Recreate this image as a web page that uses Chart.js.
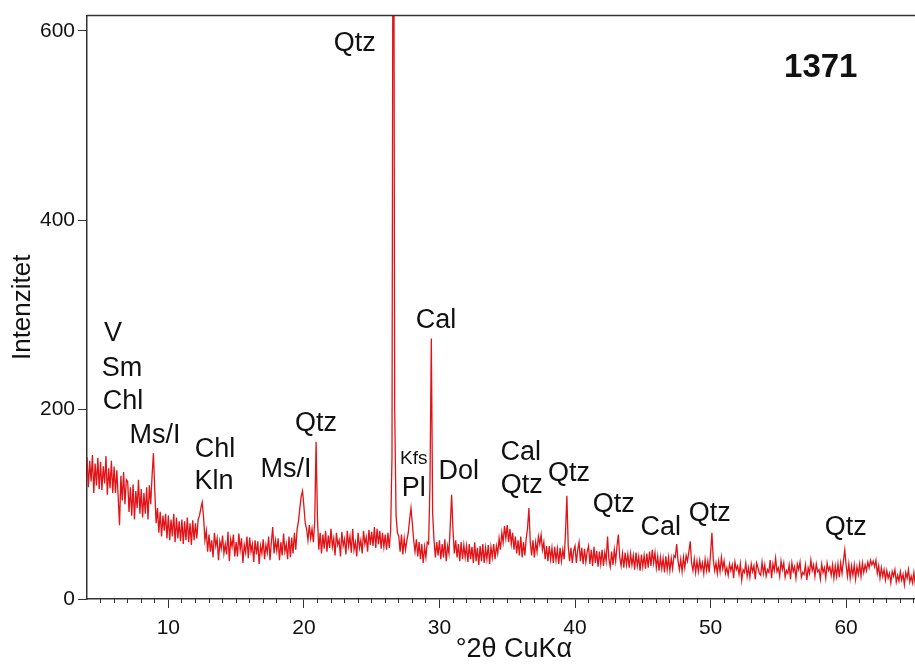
<!DOCTYPE html>
<html>
<head>
<meta charset="utf-8">
<title>1371</title>
<script src="https://cdn.jsdelivr.net/npm/chart.js@4.4.1/dist/chart.umd.min.js"></script>
<style>
  html, body { margin: 0; padding: 0; overflow: hidden; background: #fff; }
  #wrap { width: 943px; height: 666px; }
</style>
</head>
<body>
<div id="wrap"><canvas id="xrd" width="943" height="666"></canvas></div>
<script>
// scan starts at 4 °2θ, step 0.1
const START = 4;
const STEP = 0.1;

// counts, one row per degree (x.0 ... x.9)
const intensity = [
  150, 118, 146, 124, 152, 112, 143, 120, 149, 116, // 4
  145, 115, 140, 122, 151, 110, 138, 117, 146, 112, // 5
  140, 112, 136, 108, 78, 130, 104, 134, 100, 126,  // 6
  124, 92, 118, 88, 121, 84, 114, 96, 126, 90,      // 7
  116, 86, 112, 90, 118, 84, 120, 100, 130, 154,    // 8
  114, 80, 96, 70, 92, 66, 88, 72, 90, 64,          // 9
  88, 62, 84, 66, 90, 60, 86, 64, 82, 61,           // 10
  84, 58, 82, 62, 86, 60, 80, 57, 83, 62,           // 11
  80, 64, 84, 88, 96, 102, 86, 62, 72, 50,          // 12
  68, 50, 62, 44, 70, 56, 64, 41, 61, 53,           // 13
  67, 48, 58, 47, 71, 40, 63, 55, 68, 45,           // 14
  60, 45, 69, 52, 64, 38, 57, 49, 66, 43,           // 15
  65, 50, 58, 39, 62, 47, 61, 37, 56, 48,           // 16
  63, 42, 57, 49, 66, 41, 60, 76, 48, 62,           // 17
  51, 64, 41, 60, 46, 69, 50, 58, 42, 66,           // 18
  44, 65, 48, 70, 52, 74, 82, 96, 108, 114,         // 19
  98, 80, 74, 62, 78, 64, 74, 60, 82, 166,          // 20
  86, 52, 70, 48, 68, 53, 72, 50, 67, 54,           // 21
  74, 55, 64, 46, 70, 57, 62, 45, 71, 56,           // 22
  63, 47, 72, 56, 66, 49, 74, 52, 60, 45,           // 23
  70, 54, 62, 48, 72, 58, 65, 50, 73, 57,           // 24
  71, 56, 76, 54, 74, 58, 72, 53, 70, 55,           // 25
  68, 52, 70, 54, 72, 150, 1000, 200, 88, 70,       // 26
  66, 50, 68, 47, 64, 52, 62, 70, 84, 96,           // 27
  80, 62, 50, 63, 45, 60, 42, 58, 38, 55,           // 28
  44, 60, 58, 120, 275, 90, 62, 44, 60, 46,         // 29
  62, 42, 58, 44, 63, 40, 56, 48, 78, 110,          // 30
  72, 48, 62, 44, 58, 40, 60, 42, 57, 44,           // 31
  56, 39, 58, 42, 55, 38, 60, 40, 54, 36,           // 32
  56, 40, 58, 38, 54, 42, 57, 37, 55, 44,           // 33
  58, 42, 56, 48, 64, 52, 70, 60, 77, 64,           // 34
  78, 60, 74, 58, 70, 52, 66, 48, 62, 46,           // 35
  66, 44, 60, 46, 64, 75, 96, 60, 46, 62,           // 36
  44, 60, 50, 66, 58, 68, 52, 60, 42, 56,           // 37
  40, 56, 42, 54, 38, 55, 41, 53, 37, 54,           // 38
  40, 52, 42, 70, 109, 56, 40, 54, 38, 51,          // 39
  56, 38, 52, 60, 40, 54, 37, 53, 39, 50,           // 40
  56, 37, 52, 35, 55, 38, 51, 34, 50, 37,           // 41
  52, 35, 49, 40, 66, 42, 34, 50, 36, 52,           // 42
  40, 56, 68, 44, 35, 48, 33, 49, 36, 47,           // 43
  33, 48, 36, 46, 31, 49, 35, 45, 30, 47,           // 44
  34, 46, 32, 48, 33, 50, 35, 52, 38, 49,           // 45
  33, 45, 30, 44, 32, 43, 28, 45, 31, 44,           // 46
  30, 43, 32, 46, 44, 58, 40, 31, 42, 29,           // 47
  44, 33, 46, 40, 50, 61, 38, 30, 42, 28,           // 48
  40, 29, 41, 31, 38, 27, 42, 30, 40, 28,           // 49
  48, 70, 42, 30, 38, 27, 40, 29, 44, 32,           // 50
  40, 27, 33, 25, 37, 30, 36, 22, 39, 31,           // 51
  35, 26, 37, 20, 31, 28, 38, 24, 33, 23,           // 52
  37, 29, 35, 21, 38, 33, 27, 25, 39, 27,           // 53
  36, 24, 31, 28, 41, 22, 37, 30, 43, 29,           // 54
  33, 24, 40, 31, 38, 23, 30, 27, 36, 21,           // 55
  38, 29, 34, 22, 37, 31, 39, 23, 28, 26,           // 56
  36, 20, 33, 27, 41, 30, 36, 24, 37, 29,           // 57
  31, 21, 37, 28, 33, 22, 38, 30, 34, 25,           // 58
  36, 22, 35, 24, 37, 23, 38, 27, 40, 52,           // 59
  36, 24, 37, 22, 35, 25, 36, 21, 34, 26,           // 60
  37, 24, 38, 28, 36, 30, 39, 33, 41, 36,           // 61
  40, 34, 41, 27, 35, 22, 33, 24, 31, 20,           // 62
  30, 22, 27, 17, 29, 24, 31, 18, 25, 19,           // 63
  29, 20, 26, 15, 28, 22, 31, 18, 24, 17,           // 64
  28, 16, 29, 17, 27, 18, 28, 16, 26, 19            // 65
];

const xTicks = [10, 20, 30, 40, 50, 60];
const yTicks = [0, 200, 400, 600];

// mineral labels, placed in data units (°2θ, counts)
const peakLabels = [
  { text: "Qtz", at: [23.76, 586] },
  { text: "Cal", at: [29.74, 294] },
  { text: "V", at: [5.92, 280] },
  { text: "Sm", at: [6.58, 243] },
  { text: "Chl", at: [6.65, 208] },
  { text: "Ms/I", at: [9.01, 173] },
  { text: "Chl", at: [13.44, 158] },
  { text: "Kln", at: [13.37, 124] },
  { text: "Ms/I", at: [18.68, 137] },
  { text: "Qtz", at: [20.89, 185] },
  { text: "Kfs", at: [28.11, 148], small: true },
  { text: "Pl", at: [28.11, 117] },
  { text: "Dol", at: [31.43, 135] },
  { text: "Cal", at: [36.0, 155] },
  { text: "Qtz", at: [36.08, 120] },
  { text: "Qtz", at: [39.55, 132] },
  { text: "Qtz", at: [42.86, 100] },
  { text: "Cal", at: [46.33, 75] },
  { text: "Qtz", at: [49.94, 90] },
  { text: "Qtz", at: [59.97, 75] },
  { text: "1371", at: [58.13, 561], bold: true }
];

const points = intensity.map((v, i) => ({ x: +(START + i * STEP).toFixed(1), y: v }));

const FONT = '"Liberation Sans", Arial, sans-serif';
const AXIS = "#333";

// top frame line + mineral names
const extras = {
  id: "extras",
  afterDatasetsDraw(chart) {
    const { ctx, chartArea, scales } = chart;
    ctx.save();
    ctx.strokeStyle = AXIS;
    ctx.lineWidth = 1.5;
    ctx.beginPath();
    ctx.moveTo(chartArea.left, chartArea.top);
    ctx.lineTo(chartArea.right, chartArea.top);
    ctx.stroke();

    ctx.fillStyle = "#111";
    ctx.textAlign = "center";
    ctx.textBaseline = "middle";
    peakLabels.forEach(l => {
      const size = l.bold ? 33 : (l.small ? 19 : 27);
      ctx.font = (l.bold ? "bold " : "") + size + "px " + FONT;
      ctx.fillText(l.text, scales.x.getPixelForValue(l.at[0]), scales.y.getPixelForValue(l.at[1]));
    });
    ctx.restore();
  }
};

new Chart(document.getElementById("xrd"), {
  type: "line",
  data: {
    datasets: [{
      data: points,
      borderColor: "rgb(226,18,22)",
      borderWidth: 1.3,
      pointRadius: 0,
      tension: 0
    }]
  },
  options: {
    responsive: false,
    animation: false,
    parsing: false,
    layout: { padding: { top: 14, right: 2, bottom: 0, left: 0 } },
    plugins: { legend: { display: false }, tooltip: { enabled: false } },
    scales: {
      x: {
        type: "linear",
        min: 4,
        max: 67,
        position: "bottom",
        border: { color: AXIS, width: 1.5 },
        grid: { drawOnChartArea: false, tickLength: 9, color: AXIS },
        ticks: { stepSize: 10, padding: 8, color: "#111", maxRotation: 0, font: { family: FONT, size: 21 } },
        afterBuildTicks: s => { s.ticks = xTicks.map(v => ({ value: v })); },
        afterFit: s => { s.height = 67; },
        title: { display: true, text: "°2θ CuKα", color: "#111", padding: 0, font: { family: FONT, size: 27 } }
      },
      xMinor: {
        type: "linear",
        min: 4,
        max: 67,
        position: { y: 0 },
        border: { display: false },
        grid: { drawOnChartArea: false, tickLength: 4, color: AXIS },
        ticks: { display: false, stepSize: 1, autoSkip: false },
        afterBuildTicks: s => { s.ticks = s.ticks.filter(t => t.value > 4 && Number.isInteger(t.value) && t.value % 10 !== 0); }
      },
      y: {
        type: "linear",
        min: 0,
        max: 616,
        position: "left",
        border: { color: AXIS, width: 1.5 },
        grid: { drawOnChartArea: false, tickLength: 9, color: AXIS },
        ticks: { padding: 3, color: "#111", font: { family: FONT, size: 21 } },
        afterBuildTicks: s => { s.ticks = yTicks.map(v => ({ value: v })); },
        afterFit: s => { s.width = 87; },
        title: { display: true, text: "Intenzitet", color: "#111", padding: { top: 7 }, font: { family: FONT, size: 26 } }
      }
    }
  },
  plugins: [extras]
});
</script>
</body>
</html>
